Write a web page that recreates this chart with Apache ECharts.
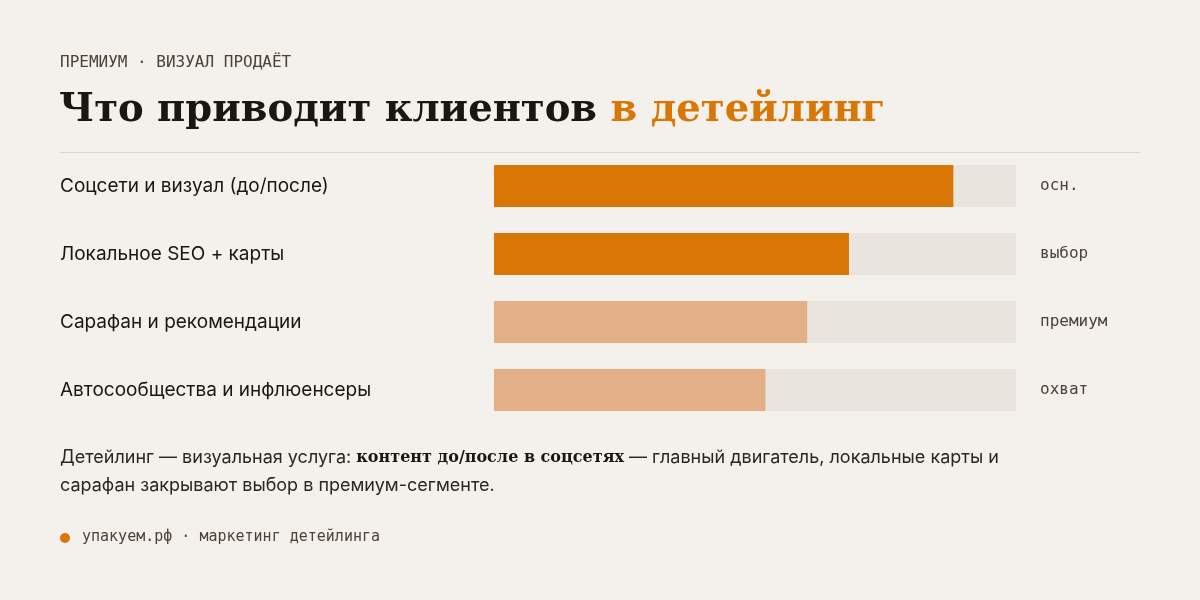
<!DOCTYPE html>
<html>
<head>
<meta charset="utf-8">
<script src="https://cdn.jsdelivr.net/npm/echarts@6/dist/echarts.min.js"></script>
<style>
  html, body { margin: 0; padding: 0; background: #f4f1ec; }
  #chart { width: 1200px; height: 600px; }
</style>
</head>
<body>
<div id="chart"></div>
<script>
// данные
const channels = [
  "Соцсети и визуал (до/после)",
  "Локальное SEO + карты",
  "Сарафан и рекомендации",
  "Автосообщества и инфлюенсеры",
];
const shares = [88, 68, 60, 52];
const tags = ["осн.", "выбор", "премиум", "охват"];
const barColors = ["#d97706", "#d97706", "#e2af87", "#e2af87"];

const ORANGE = "#d97706";
const INK = "#1a1712";
const MONO = "'DejaVu Sans Mono', monospace";
const SANS = "Inter, 'Noto Sans', sans-serif";
const SERIF = "'DejaVu Serif', serif";

const chart = echarts.init(document.getElementById("chart"));

chart.setOption({
  backgroundColor: "#f4f1ec",
  animation: false,
  grid: { left: 494, right: 184, top: 152, bottom: 176 },
  xAxis: {
    type: "value",
    min: 0,
    max: 100,
    show: false,
  },
  yAxis: [
    {
      type: "category",
      inverse: true,
      data: channels,
      axisLine: { show: false },
      axisTick: { show: false },
      axisLabel: {
        align: "left",
        margin: 434,
        color: INK,
        fontFamily: SANS,
        fontSize: 19,
      },
    },
    {
      type: "category",
      inverse: true,
      position: "right",
      data: tags,
      axisLine: { show: false },
      axisTick: { show: false },
      axisLabel: {
        align: "left",
        margin: 24,
        color: "#4a4338",
        fontFamily: MONO,
        fontSize: 16,
      },
    },
  ],
  series: [
    {
      type: "bar",
      barWidth: 42,
      showBackground: true,
      backgroundStyle: { color: "#e9e5de" },
      data: shares.map((v, i) => ({
        value: v,
        itemStyle: { color: barColors[i] },
      })),
    },
  ],
  graphic: [
    {
      type: "text",
      left: 60,
      top: 55,
      style: {
        text: "ПРЕМИУМ · ВИЗУАЛ ПРОДАЁТ",
        font: "16px " + MONO,
        fill: "#4a4338",
      },
    },
    {
      type: "text",
      left: 59,
      top: 91,
      style: {
        text: "{a|Что приводит клиентов }{b|в детейлинг}",
        rich: {
          a: { font: "bold 38.5px " + SERIF, fill: INK },
          b: { font: "bold 38.5px " + SERIF, fill: ORANGE },
        },
      },
    },
    {
      type: "line",
      shape: { x1: 60, y1: 152.5, x2: 1140, y2: 152.5 },
      style: { stroke: "#ddd5c6", lineWidth: 1 },
    },
    {
      type: "text",
      left: 60,
      top: 449,
      style: {
        text:
          "{t|Детейлинг — визуальная услуга: }{s|контент до/после в соцсетях}{t| — главный двигатель, локальные карты и}\n{t|сарафан закрывают выбор в премиум-сегменте.}",
        rich: {
          t: { font: "18px " + SANS, fill: "#2a2620", lineHeight: 28 },
          s: { font: "bold 16px " + SERIF, fill: INK, lineHeight: 28 },
        },
      },
    },
    {
      type: "circle",
      shape: { cx: 65, cy: 538, r: 5 },
      style: { fill: ORANGE },
    },
    {
      type: "text",
      left: 82,
      top: 530,
      style: {
        text: "упакуем.рф · маркетинг детейлинга",
        font: "15px " + MONO,
        fill: "#4a4338",
      },
    },
  ],
});

window.addEventListener("resize", () => chart.resize());
</script>
</body>
</html>
